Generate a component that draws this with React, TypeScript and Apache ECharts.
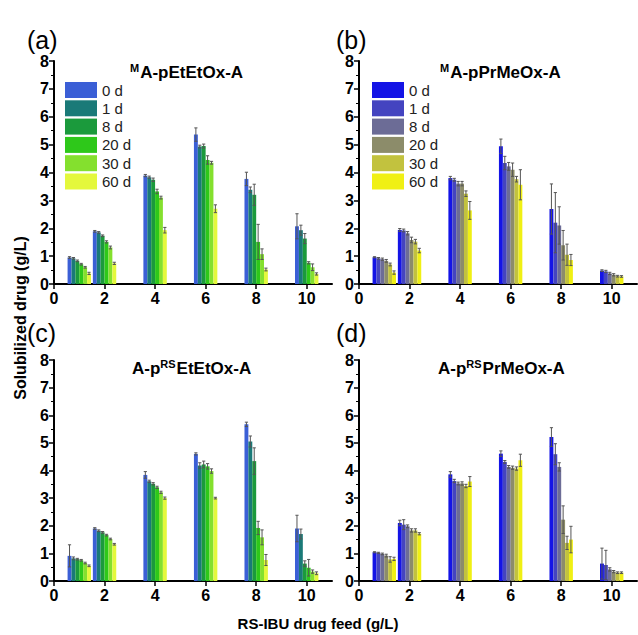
import React, { useEffect, useRef } from "react";
import * as echarts from "echarts";

const feeds = [1, 2, 4, 6, 8, 10];
const days = ["0 d", "1 d", "8 d", "20 d", "30 d", "60 d"];
const xTickValues = [0, 2, 4, 6, 8, 10];

const greenColors = ["#3b5fd6", "#1a7a78", "#1b9a3c", "#2ec81a", "#84e02e", "#e4f83c"];
const blueColors = ["#1414e6", "#4444c0", "#6c6c96", "#8c8c6a", "#c2c23e", "#f0f014"];

// values per day (rows) over drug feeds (columns)
const aValues = [
  [0.95, 1.89, 3.89, 5.36, 3.77, 2.07],
  [0.92, 1.85, 3.83, 4.93, 3.38, 1.93],
  [0.83, 1.73, 3.74, 4.95, 3.2, 1.63],
  [0.71, 1.51, 3.32, 4.45, 1.51, 0.76],
  [0.6, 1.31, 3.1, 4.35, 1.07, 0.6],
  [0.38, 0.74, 1.93, 2.7, 0.52, 0.36],
];
const aErrors = [
  [0.03, 0.03, 0.04, 0.24, 0.24, 0.45],
  [0.03, 0.03, 0.04, 0.05, 0.1, 0.18],
  [0.03, 0.03, 0.06, 0.07, 0.38, 0.18],
  [0.03, 0.04, 0.08, 0.15, 0.63, 0.04],
  [0.03, 0.05, 0.05, 0.05, 0.19, 0.12],
  [0.04, 0.04, 0.1, 0.14, 0.05, 0.04],
];
const bValues = [
  [0.96, 1.94, 3.8, 4.94, 2.69, 0.48],
  [0.92, 1.92, 3.74, 4.34, 2.2, 0.45],
  [0.89, 1.82, 3.6, 4.22, 2.1, 0.38],
  [0.83, 1.58, 3.6, 4.1, 1.39, 0.33],
  [0.7, 1.52, 3.24, 3.76, 1.05, 0.28],
  [0.41, 1.2, 2.64, 3.56, 0.86, 0.27],
];
const bErrors = [
  [0.02, 0.05, 0.06, 0.26, 0.9, 0.03],
  [0.03, 0.05, 0.05, 0.24, 1.08, 0.04],
  [0.04, 0.06, 0.08, 0.14, 0.67, 0.04],
  [0.05, 0.1, 0.08, 0.24, 0.53, 0.04],
  [0.05, 0.08, 0.1, 0.1, 0.38, 0.03],
  [0.06, 0.08, 0.32, 0.54, 0.2, 0.03],
];
const cValues = [
  [0.91, 1.9, 3.84, 4.6, 5.67, 1.9],
  [0.82, 1.82, 3.61, 4.18, 5.05, 1.7],
  [0.79, 1.76, 3.52, 4.22, 4.34, 0.63],
  [0.75, 1.66, 3.39, 4.15, 1.92, 0.48],
  [0.65, 1.52, 3.21, 3.98, 1.58, 0.34],
  [0.55, 1.33, 3.0, 3.0, 0.76, 0.28],
];
const cErrors = [
  [0.4, 0.03, 0.12, 0.04, 0.08, 0.48],
  [0.05, 0.03, 0.04, 0.1, 0.2, 0.18],
  [0.03, 0.03, 0.04, 0.12, 0.48, 0.1],
  [0.03, 0.03, 0.04, 0.1, 0.24, 0.3],
  [0.03, 0.03, 0.04, 0.08, 0.27, 0.06],
  [0.03, 0.03, 0.04, 0.03, 0.2, 0.05],
];
const dValues = [
  [1.04, 2.1, 3.86, 4.61, 5.21, 0.63],
  [1.02, 2.04, 3.62, 4.31, 4.59, 0.58],
  [0.98, 1.98, 3.53, 4.13, 4.13, 0.42],
  [0.92, 1.83, 3.53, 4.1, 2.22, 0.34],
  [0.78, 1.83, 3.44, 4.07, 1.38, 0.3],
  [0.8, 1.71, 3.6, 4.37, 1.5, 0.3],
];
const dErrors = [
  [0.02, 0.1, 0.1, 0.1, 0.34, 0.56],
  [0.02, 0.18, 0.06, 0.05, 0.38, 0.53],
  [0.03, 0.05, 0.05, 0.05, 0.15, 0.06],
  [0.05, 0.06, 0.06, 0.06, 0.5, 0.04],
  [0.1, 0.06, 0.06, 0.06, 0.24, 0.03],
  [0.06, 0.04, 0.18, 0.22, 0.48, 0.03],
];

const FONT = "'Liberation Sans', Arial, Helvetica, sans-serif";
const BAR_W = 3.9;

const panels = [
  { key: "A", values: aValues, errors: aErrors, colors: greenColors, left: 54, top: 61, height: 223 },
  { key: "B", values: bValues, errors: bErrors, colors: blueColors, left: 359, top: 61, height: 223 },
  { key: "C", values: cValues, errors: cErrors, colors: greenColors, left: 54, top: 360, height: 221 },
  { key: "D", values: dValues, errors: dErrors, colors: blueColors, left: 359, top: 360, height: 221 },
];

function buildOption() {
  const grid: any[] = [];
  const xAxis: any[] = [];
  const yAxis: any[] = [];
  const series: any[] = [];
  panels.forEach((p, gi) => {
    grid.push({ left: p.left, top: p.top, width: 278, height: p.height, containLabel: false });
    xAxis.push({
      type: "value",
      gridIndex: gi,
      min: 0,
      max: 11,
      interval: 1,
      axisLine: { show: true, lineStyle: { color: "#000", width: 2 } },
      axisTick: { show: true, length: 5, lineStyle: { color: "#000", width: 1.5 }, customValues: xTickValues },
      minorTick: { show: false },
      splitLine: { show: false },
      axisLabel: {
        customValues: xTickValues,
        color: "#000",
        fontSize: 16,
        fontWeight: "bold",
        fontFamily: FONT,
        margin: 6,
      },
    });
    yAxis.push({
      type: "value",
      gridIndex: gi,
      min: 0,
      max: 8,
      interval: 1,
      axisLine: { show: true, lineStyle: { color: "#000", width: 2 } },
      axisTick: { show: true, length: 5, lineStyle: { color: "#000", width: 1.5 } },
      minorTick: { show: true, splitNumber: 2, length: 3, lineStyle: { color: "#000", width: 1 } },
      splitLine: { show: false },
      axisLabel: {
        color: "#000",
        fontSize: 16,
        fontWeight: "bold",
        fontFamily: FONT,
        margin: 5,
      },
    });
    days.forEach((d, k) => {
      series.push({
        type: "bar",
        name: p.key + ":" + d,
        xAxisIndex: gi,
        yAxisIndex: gi,
        barWidth: BAR_W,
        barGap: "0%",
        itemStyle: { color: p.colors[k] },
        data: feeds.map((f, j) => [f, p.values[k][j]]),
        z: 2,
      });
    });
    const errData: any[] = [];
    days.forEach((d, k) => {
      feeds.forEach((f, j) => {
        errData.push([f, p.values[k][j], p.errors[k][j], k]);
      });
    });
    series.push({
      type: "custom",
      name: p.key + ":err",
      xAxisIndex: gi,
      yAxisIndex: gi,
      z: 5,
      encode: { x: 0, y: 1 },
      data: errData,
      renderItem: (params: any, api: any) => {
        const x = api.value(0);
        const y = api.value(1);
        const e = api.value(2);
        const k = api.value(3);
        const off = (k - 2.5) * BAR_W;
        const top = api.coord([x, y + e]);
        const bot = api.coord([x, Math.max(0, y - e)]);
        const cx = top[0] + off;
        const cap = 1.6;
        const style = { stroke: "#555", lineWidth: 1 };
        return {
          type: "group",
          children: [
            { type: "line", shape: { x1: cx, y1: top[1], x2: cx, y2: bot[1] }, style },
            { type: "line", shape: { x1: cx - cap, y1: top[1], x2: cx + cap, y2: top[1] }, style },
            { type: "line", shape: { x1: cx - cap, y1: bot[1], x2: cx + cap, y2: bot[1] }, style },
          ],
        };
      },
    });
  });

  const legendCommon = {
    orient: "vertical",
    itemWidth: 32,
    itemHeight: 16,
    itemGap: 2.3,
    icon: "rect",
    selectedMode: false,
    textStyle: { fontSize: 15, fontFamily: FONT, color: "#222" },
    formatter: (name: string) => name.replace(/^[A-D]:/, ""),
  };

  const titleRich = {
    s: { fontSize: 11, fontWeight: "bold", fontFamily: FONT, color: "#000", verticalAlign: "top", padding: [0, 1, 0, 0] },
    m: { fontSize: 17, fontWeight: "bold", fontFamily: FONT, color: "#000", lineHeight: 20 },
  };

  const mkTitle = (x: number, y: number, text: string) => ({
    type: "text",
    left: x,
    top: y,
    style: { text, rich: titleRich, fill: "#000" },
  });

  const mkLabel = (x: number, y: number, text: string) => ({
    type: "text",
    left: x,
    top: y,
    style: { text, fontSize: 25, fontFamily: FONT, fill: "#000" },
  });

  return {
    animation: false,
    backgroundColor: "#fff",
    grid,
    xAxis,
    yAxis,
    series,
    legend: [
      { ...legendCommon, left: 60, top: 77, data: days.map((d) => "A:" + d) },
      { ...legendCommon, left: 367, top: 77, data: days.map((d) => "B:" + d) },
    ],
    graphic: [
      mkLabel(27, 27, "(a)"),
      mkLabel(336, 27, "(b)"),
      mkLabel(27, 320, "(c)"),
      mkLabel(336, 320, "(d)"),
      mkTitle(130, 62, "{s|M}{m|A-pEtEtOx-A}"),
      mkTitle(440, 62, "{s|M}{m|A-pPrMeOx-A}"),
      mkTitle(132, 358, "{m|A-p}{s|RS}{m|EtEtOx-A}"),
      mkTitle(438, 358, "{m|A-p}{s|RS}{m|PrMeOx-A}"),
      {
        type: "text",
        x: 20,
        y: 318,
        rotation: Math.PI / 2,
        style: {
          text: "Solubilized drug (g/L)",
          fontSize: 16,
          fontWeight: "bold",
          fontFamily: FONT,
          fill: "#000",
          align: "center",
          verticalAlign: "middle",
        },
      },
      {
        type: "text",
        x: 318,
        y: 623,
        style: {
          text: "RS-IBU drug feed (g/L)",
          fontSize: 15,
          fontWeight: "bold",
          fontFamily: FONT,
          fill: "#000",
          align: "center",
          verticalAlign: "middle",
        },
      },
    ],
  };
}

export default function App() {
  const ref = useRef<HTMLDivElement>(null);
  useEffect(() => {
    if (!ref.current) return;
    const chart = echarts.init(ref.current, undefined, { renderer: "svg" });
    chart.setOption(buildOption() as any);
    return () => chart.dispose();
  }, []);
  return (
    <div
      ref={ref}
      style={{ position: "absolute", left: 0, top: 0, width: 638, height: 635, background: "#fff" }}
    />
  );
}
